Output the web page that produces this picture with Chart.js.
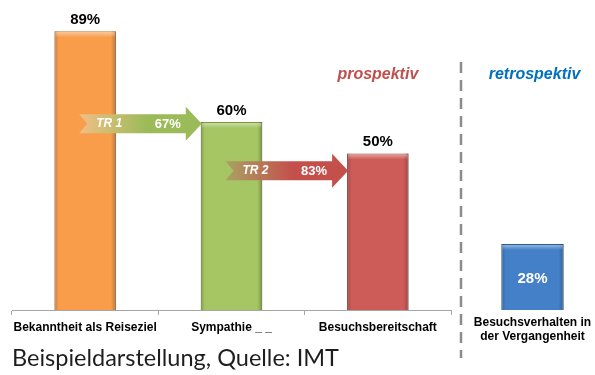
<!DOCTYPE html>
<html>
<head>
<meta charset="utf-8">
<script src="https://cdn.jsdelivr.net/npm/chart.js@4.4.1/dist/chart.umd.min.js"></script>
<style>
  html, body { margin: 0; padding: 0; background: #fff; }
  #wrap { position: relative; width: 595px; height: 375px; overflow: hidden; }
  #main { position: absolute; left: 0; top: 0; }
  #past { position: absolute; left: 470px; top: 0; }
</style>
</head>
<body>
<div id="wrap">
  <canvas id="main" width="595" height="375"></canvas>
  <canvas id="past" width="125" height="375"></canvas>
</div>
<script>
// values
const categories = ['Bekanntheit als Reiseziel', 'Sympathie _ _', 'Besuchsbereitschaft'];
const values = [89, 60, 50];
const barColors = ['#f99d4b', '#a5c663', '#cd5b57'];
const barEdges = ['#c27532', '#7d9a41', '#9e3d3a'];

const transitions = ['TR 1', 'TR 2'];
const transitionRates = [67, 83];
const arrowLevels = [59.5, 44.5];
const arrowColors = [['#f2bf86', '#9bbb59'], ['#a9a262', '#c4504c']];

const pastCategories = [['Besuchsverhalten in', 'der Vergangenheit']];
const pastValues = [28];

const phaseLabels = ['prospektiv', 'retrospektiv'];
const source = 'Beispieldarstellung, Quelle: IMT';

const font = 'Liberation Sans, Arial, sans-serif';

// 3d look of the office bars
const bevel = {
  id: 'bevel',
  afterDatasetsDraw(chart) {
    const ctx = chart.ctx;
    chart.getDatasetMeta(0).data.forEach(bar => {
      const l = bar.x - bar.width / 2, w = bar.width, t = bar.y, h = bar.base - bar.y;
      ctx.save();
      let g = ctx.createLinearGradient(l, 0, l + w, 0);
      g.addColorStop(0, 'rgba(0,0,0,0.2)');
      g.addColorStop(0.07, 'rgba(0,0,0,0)');
      g.addColorStop(0.92, 'rgba(0,0,0,0)');
      g.addColorStop(1, 'rgba(0,0,0,0.25)');
      ctx.fillStyle = g;
      ctx.fillRect(l, t, w, h);
      let g2 = ctx.createLinearGradient(0, t, 0, t + 6);
      g2.addColorStop(0, 'rgba(255,255,255,0.5)');
      g2.addColorStop(1, 'rgba(255,255,255,0)');
      ctx.fillStyle = g2;
      ctx.fillRect(l + 1, t + 1, w - 2, 6);
      ctx.restore();
    });
  }
};

function drawArrow(ctx, x0, x1, y, colors) {
  const shaft = 9.5, head = 17, headLen = 16, notch = 8;
  ctx.beginPath();
  ctx.moveTo(x0, y - shaft);
  ctx.lineTo(x1 - headLen, y - shaft);
  ctx.lineTo(x1 - headLen, y - head);
  ctx.lineTo(x1, y);
  ctx.lineTo(x1 - headLen, y + head);
  ctx.lineTo(x1 - headLen, y + shaft);
  ctx.lineTo(x0, y + shaft);
  ctx.lineTo(x0 + notch, y);
  ctx.closePath();
  const g = ctx.createLinearGradient(x0, 0, x1, 0);
  g.addColorStop(0, colors[0]);
  g.addColorStop(0.55, colors[1]);
  g.addColorStop(1, colors[1]);
  ctx.fillStyle = g;
  ctx.fill();
}

const extras = {
  id: 'extras',
  afterDatasetsDraw(chart) {
    const ctx = chart.ctx;
    const bars = chart.getDatasetMeta(0).data;
    const yS = chart.scales.y;
    ctx.save();

    // transition arrows
    transitions.forEach((tr, i) => {
      const from = bars[i], to = bars[i + 1];
      const x0 = from.x - 6;
      const x1 = to.x - to.width / 2 + 1;
      const y = yS.getPixelForValue(arrowLevels[i]);
      drawArrow(ctx, x0, x1, y, arrowColors[i]);
      ctx.fillStyle = '#fff';
      ctx.textAlign = 'center';
      ctx.textBaseline = 'middle';
      ctx.font = 'italic bold 12px ' + font;
      ctx.fillText(tr, x0 + 30, y);
      ctx.font = 'bold 13px ' + font;
      ctx.fillText(transitionRates[i] + '%', x1 - 34, y + 1);
    });

    // value labels
    ctx.fillStyle = '#000';
    ctx.font = 'bold 15px ' + font;
    ctx.textAlign = 'center';
    ctx.textBaseline = 'alphabetic';
    bars.forEach((bar, i) => ctx.fillText(values[i] + '%', bar.x, bar.y - 7));

    // phase label + divider
    ctx.font = 'italic bold 16px ' + font;
    ctx.fillStyle = '#c0504d';
    ctx.textBaseline = 'middle';
    ctx.fillText(phaseLabels[0], bars[bars.length - 1].x, 75);

    const xd = chart.chartArea.right + 10;
    ctx.strokeStyle = '#8c8c8c';
    ctx.lineWidth = 2.5;
    ctx.setLineDash([11, 7]);
    ctx.beginPath();
    ctx.moveTo(xd, 62);
    ctx.lineTo(xd, 358);
    ctx.stroke();
    ctx.setLineDash([]);

    // source line
    ctx.fillStyle = '#1e1e1e';
    ctx.font = '23.5px Lato, sans-serif';
    ctx.textAlign = 'left';
    ctx.textBaseline = 'alphabetic';
    ctx.fillText(source, 12, 366);
    ctx.restore();
  }
};

const pastExtras = {
  id: 'pastExtras',
  afterDatasetsDraw(chart) {
    const ctx = chart.ctx;
    const bar = chart.getDatasetMeta(0).data[0];
    ctx.save();
    ctx.fillStyle = '#fff';
    ctx.font = 'bold 15px ' + font;
    ctx.textAlign = 'center';
    ctx.textBaseline = 'middle';
    ctx.fillText(pastValues[0] + '%', bar.x, (bar.y + bar.base) / 2 + 2);
    ctx.fillStyle = '#0070c0';
    ctx.font = 'italic bold 16px ' + font;
    ctx.fillText(phaseLabels[1], bar.x + 2, 75);
    ctx.restore();
  }
};

new Chart(document.getElementById('main'), {
  type: 'bar',
  data: {
    labels: categories,
    datasets: [{
      data: values,
      backgroundColor: barColors,
      borderColor: barEdges,
      borderWidth: 1,
      barPercentage: 0.42,
      categoryPercentage: 1
    }]
  },
  options: {
    responsive: false,
    animation: false,
    layout: { padding: { left: 12, right: 144, top: 0, bottom: 0 } },
    plugins: { legend: { display: false }, tooltip: { enabled: false } },
    scales: {
      x: {
        grid: { drawOnChartArea: false, tickLength: 5, color: '#a6a6a6' },
        border: { display: true, color: '#a6a6a6' },
        ticks: {
          color: '#000',
          font: { family: font, size: 12, weight: 'bold' },
          maxRotation: 0, minRotation: 0, autoSkip: false, padding: 5
        },
        afterFit: s => { s.height = 65; }
      },
      y: { display: false, min: 0, max: 99 }
    }
  },
  plugins: [bevel, extras]
});

new Chart(document.getElementById('past'), {
  type: 'bar',
  data: {
    labels: pastCategories,
    datasets: [{
      data: pastValues,
      backgroundColor: '#4380c8',
      borderColor: '#2c5a94',
      borderWidth: 1,
      barPercentage: 0.536,
      categoryPercentage: 1
    }]
  },
  options: {
    responsive: false,
    animation: false,
    layout: { padding: 0 },
    plugins: { legend: { display: false }, tooltip: { enabled: false } },
    scales: {
      x: {
        grid: { display: false, drawTicks: false },
        border: { display: false },
        ticks: {
          color: '#000',
          font: { family: font, size: 12, weight: 'bold', lineHeight: 1.15 },
          maxRotation: 0, minRotation: 0, autoSkip: false, padding: 6
        },
        afterFit: s => { s.height = 65; }
      },
      y: { display: false, min: 0, max: 131.5 }
    }
  },
  plugins: [bevel, pastExtras]
});
</script>
</body>
</html>
